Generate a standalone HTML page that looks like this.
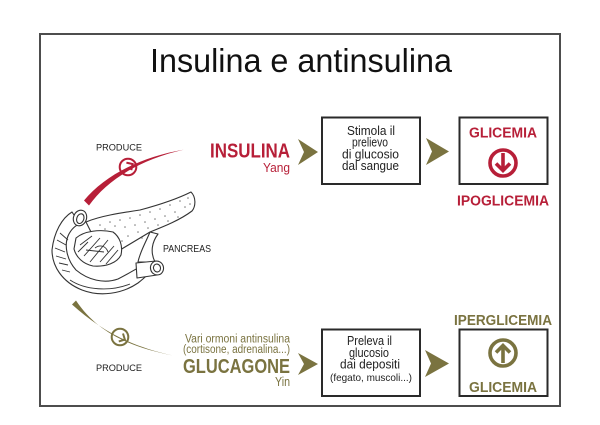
<!DOCTYPE html>
<html><head><meta charset="utf-8"><style>
html,body{margin:0;padding:0;background:#fff;}
svg{display:block;}
text{font-family:"Liberation Sans",Arial,sans-serif;}
</style></head><body>
<svg width="600" height="425" viewBox="0 0 600 425" xmlns="http://www.w3.org/2000/svg">
<rect x="0" y="0" width="600" height="425" fill="#fff"/>
<!-- frame -->
<rect x="40" y="34" width="520" height="372" fill="none" stroke="#4d4d4d" stroke-width="2"/>

<!-- title -->
<text x="150" y="72" font-size="33" fill="#111" textLength="302" lengthAdjust="spacingAndGlyphs">Insulina e antinsulina</text>

<!-- top PRODUCE -->
<text x="96" y="150.5" font-size="9.5" fill="#222" textLength="46" lengthAdjust="spacingAndGlyphs">PRODUCE</text>
<!-- red curve -->
<path d="M84,200.5 C104,176 140,157 184,149.6 C140,159.5 107,180 89,205.5 Z" fill="#b71f38"/>
<circle cx="128" cy="167" r="8.3" fill="none" stroke="#b71f38" stroke-width="2"/>
<g transform="translate(128,167) rotate(-33)"><polyline points="1,-4.5 5.5,0 1,4.5" fill="none" stroke="#b71f38" stroke-width="2"/></g>

<!-- INSULINA -->
<text x="210" y="157.5" font-size="20" font-weight="bold" fill="#b71f38" textLength="80" lengthAdjust="spacingAndGlyphs">INSULINA</text>
<text x="263" y="172" font-size="13" fill="#b71f38" textLength="27" lengthAdjust="spacingAndGlyphs">Yang</text>

<!-- chevrons -->
<polygon points="298,139 318,152 298,165 304,152" fill="#7a7340"/>
<polygon points="426,138 449,151.5 426,165 432,151.5" fill="#7a7340"/>
<polygon points="298,353 318,364 298,375 304,364" fill="#7a7340"/>
<polygon points="425,350 449,363.5 425,377 431,363.5" fill="#7a7340"/>

<!-- box1 -->
<rect x="322" y="117.5" width="98" height="66.5" fill="none" stroke="#2a2a2a" stroke-width="2"/>
<text x="347" y="135" font-size="12.5" fill="#222" textLength="48" lengthAdjust="spacingAndGlyphs">Stimola il</text>
<text x="352" y="146.7" font-size="12.5" fill="#222" textLength="36" lengthAdjust="spacingAndGlyphs">prelievo</text>
<text x="342" y="158.3" font-size="12.5" fill="#222" textLength="57" lengthAdjust="spacingAndGlyphs">di glucosio</text>
<text x="342" y="170" font-size="12.5" fill="#222" textLength="57" lengthAdjust="spacingAndGlyphs">dal sangue</text>

<!-- box2 -->
<rect x="459.5" y="117.5" width="88" height="66.5" fill="none" stroke="#2a2a2a" stroke-width="2"/>
<text x="469" y="137.5" font-size="14.5" font-weight="bold" fill="#b71f38" textLength="68" lengthAdjust="spacingAndGlyphs">GLICEMIA</text>
<circle cx="503" cy="163" r="13" fill="none" stroke="#b71f38" stroke-width="3.6"/>
<line x1="503" y1="153" x2="503" y2="170" stroke="#b71f38" stroke-width="3.6"/>
<polyline points="496,163.5 503,170.5 510,163.5" fill="none" stroke="#b71f38" stroke-width="3.6"/>
<text x="457" y="205.5" font-size="14.5" font-weight="bold" fill="#b71f38" textLength="92" lengthAdjust="spacingAndGlyphs">IPOGLICEMIA</text>

<!-- pancreas -->
<g stroke="#333" stroke-width="1.1" fill="#fff" stroke-linejoin="round">
  <path d="M86,222 C100,216 120,213 140,210 C155,206 175,200 191,192 C196,197 196,206 192,211 C180,220 165,226 150,232 C140,238 130,244 120,250 L100,250 Z"/>
  <path d="M150,232 C145,244 140,252 138,262 L155,262 C150,252 152,242 158,234 Z"/>
  <path d="M72,212 C62,218 54,232 52,250 C52,266 62,282 82,290 C100,297 122,294 138,283 C146,277 150,272 155,268 L150,262 C140,266 132,272 118,279 C104,284 88,280 76,270 C67,260 64,246 68,236 C71,229 76,225 80,224 Z"/>
  <path d="M136,263 L156,261 L157,275 L137,278 Z"/>
  <ellipse cx="157" cy="268" rx="6.5" ry="7" transform="rotate(-15 157 268)"/>
  <ellipse cx="157" cy="268" rx="3.5" ry="4" transform="rotate(-15 157 268)"/>
  <ellipse cx="80" cy="218" rx="6.5" ry="8" transform="rotate(20 80 218)"/>
  <ellipse cx="80.5" cy="218.5" rx="3.5" ry="5" transform="rotate(20 80 218)"/>
  <path d="M76,238 C84,231 100,229 113,232 C120,237 123,246 121,255 C117,263 106,267 93,266 C83,264 76,257 74,249 Z"/>
</g>
<g stroke="#333" stroke-width="0.9" fill="none">
  <path d="M80,245 L92,236 M84,256 L100,238 M90,262 L108,240 M100,262 L114,246 M95,248 C100,244 106,246 108,252 M86,250 L104,252 M78,252 L88,242 M106,264 L118,250"/>
  <path d="M57,240 L66,245 M55,248 L65,252 M56,256 L66,259 M59,263 L68,265 M60,233 L68,240 M62,270 L70,272"/>
  <path d="M70,280 C85,290 110,292 130,284"/>
</g>
<g fill="#7a7a7a">
  <circle cx="100" cy="225" r="0.8"/><circle cx="110" cy="222" r="0.8"/><circle cx="120" cy="220" r="0.8"/><circle cx="130" cy="218" r="0.8"/>
  <circle cx="140" cy="215" r="0.8"/><circle cx="150" cy="212" r="0.8"/><circle cx="160" cy="209" r="0.8"/><circle cx="170" cy="205" r="0.8"/>
  <circle cx="180" cy="201" r="0.8"/><circle cx="188" cy="198" r="0.8"/><circle cx="125" cy="227" r="0.8"/><circle cx="135" cy="225" r="0.8"/>
  <circle cx="145" cy="222" r="0.8"/><circle cx="155" cy="219" r="0.8"/><circle cx="165" cy="216" r="0.8"/><circle cx="175" cy="212" r="0.8"/>
  <circle cx="185" cy="207" r="0.8"/><circle cx="128" cy="236" r="0.8"/><circle cx="138" cy="232" r="0.8"/><circle cx="148" cy="228" r="0.8"/>
  <circle cx="158" cy="225" r="0.8"/><circle cx="168" cy="221" r="0.8"/><circle cx="178" cy="217" r="0.8"/><circle cx="142" cy="238" r="0.8"/>
  <circle cx="115" cy="226" r="0.8"/><circle cx="105" cy="229" r="0.8"/><circle cx="190" cy="204" r="0.8"/><circle cx="122" cy="241" r="0.8"/>
</g>
<text x="163" y="252" font-size="10.5" fill="#222" textLength="48" lengthAdjust="spacingAndGlyphs">PANCREAS</text>

<!-- olive curve -->
<path d="M72,304.5 C99,329 129,346 173,355.5 C129,347 97,332 76,300.5 Z" fill="#7a7340"/>
<circle cx="120" cy="337" r="8.3" fill="none" stroke="#7a7340" stroke-width="2"/>
<g transform="translate(120,337) rotate(28)"><polyline points="1,-4.5 5.5,0 1,4.5" fill="none" stroke="#7a7340" stroke-width="2"/></g>
<text x="96" y="371" font-size="9.5" fill="#222" textLength="46" lengthAdjust="spacingAndGlyphs">PRODUCE</text>

<text x="185" y="342.5" font-size="11.5" fill="#7a7340" textLength="105" lengthAdjust="spacingAndGlyphs">Vari ormoni antinsulina</text>
<text x="183" y="353" font-size="11.5" fill="#7a7340" textLength="107" lengthAdjust="spacingAndGlyphs">(cortisone, adrenalina...)</text>
<text x="183" y="373" font-size="20" font-weight="bold" fill="#7a7340" textLength="107" lengthAdjust="spacingAndGlyphs">GLUCAGONE</text>
<text x="275" y="386" font-size="13" fill="#7a7340" textLength="15" lengthAdjust="spacingAndGlyphs">Yin</text>

<!-- box3 -->
<rect x="322" y="329.5" width="98" height="66.5" fill="none" stroke="#2a2a2a" stroke-width="2"/>
<text x="347" y="345" font-size="12.5" fill="#222" textLength="45" lengthAdjust="spacingAndGlyphs">Preleva il</text>
<text x="349" y="357" font-size="12.5" fill="#222" textLength="40" lengthAdjust="spacingAndGlyphs">glucosio</text>
<text x="340" y="368.5" font-size="12.5" fill="#222" textLength="60" lengthAdjust="spacingAndGlyphs">dai depositi</text>
<text x="330" y="381" font-size="10.5" fill="#222" textLength="82" lengthAdjust="spacingAndGlyphs">(fegato, muscoli...)</text>

<!-- box4 -->
<text x="454" y="325" font-size="14.5" font-weight="bold" fill="#7a7340" textLength="98" lengthAdjust="spacingAndGlyphs">IPERGLICEMIA</text>
<rect x="459.5" y="329.5" width="88" height="66.5" fill="none" stroke="#2a2a2a" stroke-width="2"/>
<circle cx="503" cy="353" r="13" fill="none" stroke="#7a7340" stroke-width="3.6"/>
<line x1="503" y1="346" x2="503" y2="363" stroke="#7a7340" stroke-width="3.6"/>
<polyline points="496,352.5 503,345.5 510,352.5" fill="none" stroke="#7a7340" stroke-width="3.6"/>
<text x="469" y="392" font-size="14.5" font-weight="bold" fill="#7a7340" textLength="68" lengthAdjust="spacingAndGlyphs">GLICEMIA</text>
</svg>
</body></html>
